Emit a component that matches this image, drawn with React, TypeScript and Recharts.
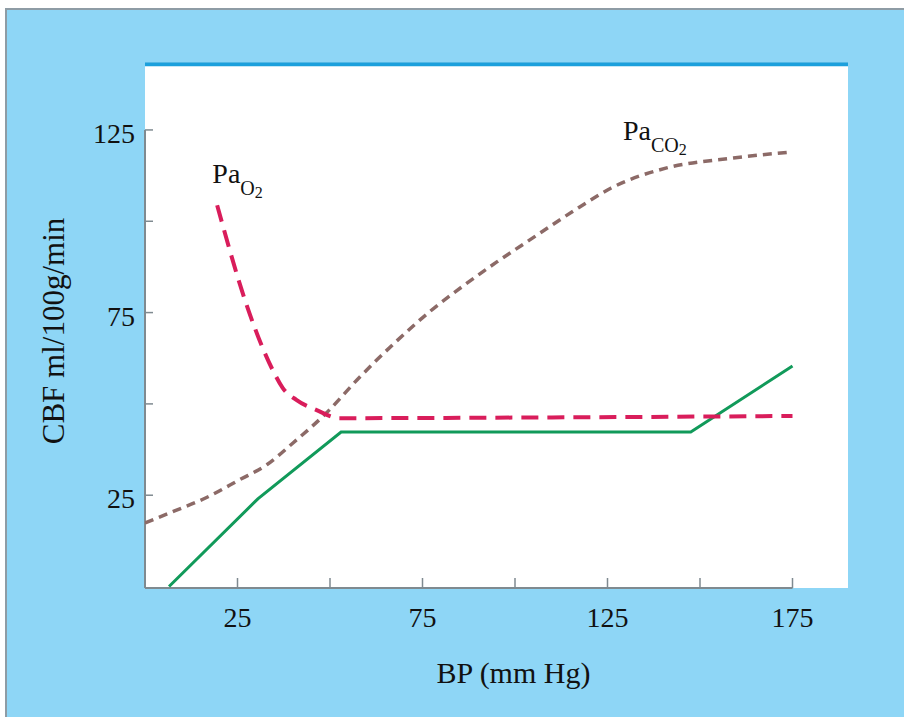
import { LineChart, Line, XAxis, YAxis, CartesianGrid, ReferenceLine, ReferenceDot, Label } from 'recharts';

const SERIF = '"Liberation Serif", "Times New Roman", serif';

const xTicks = [25, 50, 75, 100, 125, 150, 175];
const xLabelled = [25, 75, 125, 175];
const yTicks = [25, 50, 75, 100, 125];
const yLabelled = [25, 75, 125];

// CBF vs BP, one list per curve
const paO2Curve = [
  { bp: 19.5, cbf: 104.4 },
  { bp: 28.2, cbf: 74.9 },
  { bp: 34.5, cbf: 59.3 },
  { bp: 37.2, cbf: 54.4 },
  { bp: 40.9, cbf: 51.1 },
  { bp: 46.4, cbf: 48.3 },
  { bp: 52.6, cbf: 46.1 },
  { bp: 110, cbf: 46.3 },
  { bp: 175, cbf: 46.7 },
];

const paCO2Curve = [
  { bp: 0, cbf: 17.4 },
  { bp: 8, cbf: 20.7 },
  { bp: 16.5, cbf: 24.3 },
  { bp: 25.5, cbf: 29.2 },
  { bp: 33, cbf: 33.4 },
  { bp: 40, cbf: 39.3 },
  { bp: 49, cbf: 47.5 },
  { bp: 58, cbf: 57.3 },
  { bp: 68, cbf: 67.2 },
  { bp: 77, cbf: 75.3 },
  { bp: 86, cbf: 82.3 },
  { bp: 95, cbf: 88.8 },
  { bp: 104, cbf: 94.9 },
  { bp: 117.5, cbf: 103.9 },
  { bp: 126, cbf: 109.1 },
  { bp: 141, cbf: 114.6 },
  { bp: 159, cbf: 117.3 },
  { bp: 175, cbf: 119 },
];

const bpCurve = [
  { bp: 6.5, cbf: 0 },
  { bp: 30.5, cbf: 24 },
  { bp: 53, cbf: 42.3 },
  { bp: 147.5, cbf: 42.3 },
  { bp: 175, cbf: 60.4 },
];

const AXIS_GREY = '#7f8a90';

function subLabel(main: string, sub: string, sub2: string) {
  return (props: any) => (
    <text x={props.cx} y={props.cy} fontFamily={SERIF} fill="#111" fontSize={28}>
      {main}
      <tspan dy={12} fontSize={20}>{sub}</tspan>
      <tspan dy={3} fontSize={16}>{sub2}</tspan>
    </text>
  );
}

// rotated y-axis title, drawn by hand so the serif font sticks
function yTitle(props: any) {
  const vb = props.viewBox;
  const cx = vb.x + vb.width / 2 - 52;
  const cy = vb.y + vb.height / 2 + 6;
  return (
    <text
      x={cx}
      y={cy}
      transform={`rotate(-90, ${cx}, ${cy})`}
      textAnchor="middle"
      dominantBaseline="central"
      fontFamily={SERIF}
      fontSize={31}
      fill="#111"
    >
      CBF ml/100g/min
    </text>
  );
}

export default function App() {
  return (
    <div
      style={{
        position: 'absolute',
        left: 0,
        top: 0,
        width: 904,
        height: 717,
        background: '#fff',
        overflow: 'hidden',
        fontFamily: SERIF,
      }}
    >
      <div
        style={{
          position: 'absolute',
          left: 5,
          top: 8,
          right: 0,
          bottom: 0,
          background: '#8ed6f6',
          borderTop: '2px solid #8e9ca5',
          borderLeft: '2px solid #8e9ca5',
        }}
      />
      <div style={{ position: 'absolute', left: 0, top: 0 }}>
        <LineChart width={904} height={717} margin={{ top: 62, right: 56, bottom: 69, left: 65 }}>
          <CartesianGrid fill="#ffffff" horizontal={false} vertical={false} />
          <XAxis
            type="number"
            dataKey="bp"
            domain={[0, 190]}
            ticks={xTicks}
            tickFormatter={(v: number) => (xLabelled.includes(v) ? String(v) : '')}
            allowDataOverflow
            height={60}
            axisLine={false}
            tickSize={-10}
            tickMargin={29}
            tickLine={{ stroke: AXIS_GREY, strokeWidth: 1.5 }}
            tick={{ fill: '#111', fontSize: 28, fontFamily: SERIF }}
            label={{ value: 'BP (mm Hg)', position: 'center', dx: 17, dy: 54, fill: '#111', fontSize: 30, fontFamily: SERIF }}
          />
          <YAxis
            type="number"
            domain={[-0.4, 143.6]}
            ticks={yTicks}
            tickFormatter={(v: number) => (yLabelled.includes(v) ? String(v) : '')}
            allowDataOverflow
            width={80}
            axisLine={false}
            tickSize={-8}
            tickMargin={18}
            tickLine={{ stroke: AXIS_GREY, strokeWidth: 1.5 }}
            tick={{ fill: '#111', fontSize: 28, fontFamily: SERIF, dy: 3 }}
          >
            <Label content={yTitle} />
          </YAxis>
          <ReferenceLine y={143} stroke="#1ca0dc" strokeWidth={4} />
          <ReferenceLine segment={[{ x: 0, y: -0.4 }, { x: 175, y: -0.4 }]} stroke={AXIS_GREY} strokeWidth={2} />
          <ReferenceLine segment={[{ x: 0, y: -0.4 }, { x: 0, y: 125 }]} stroke={AXIS_GREY} strokeWidth={2} />
          <Line
            data={bpCurve}
            dataKey="cbf"
            type="linear"
            stroke="#119a5a"
            strokeWidth={3}
            dot={false}
            isAnimationActive={false}
          />
          <Line
            data={paCO2Curve}
            dataKey="cbf"
            type="monotone"
            stroke="#8c6a67"
            strokeWidth={3.5}
            strokeDasharray="9 6"
            dot={false}
            isAnimationActive={false}
          />
          <Line
            data={paO2Curve}
            dataKey="cbf"
            type="monotone"
            stroke="#d91d5b"
            strokeWidth={4}
            strokeDasharray="17 9"
            dot={false}
            isAnimationActive={false}
          />
          <ReferenceDot x={18.2} y={110.5} r={0} shape={subLabel('Pa', 'O', '2')} />
          <ReferenceDot x={129.2} y={122.3} r={0} shape={subLabel('Pa', 'CO', '2')} />
        </LineChart>
      </div>
    </div>
  );
}
